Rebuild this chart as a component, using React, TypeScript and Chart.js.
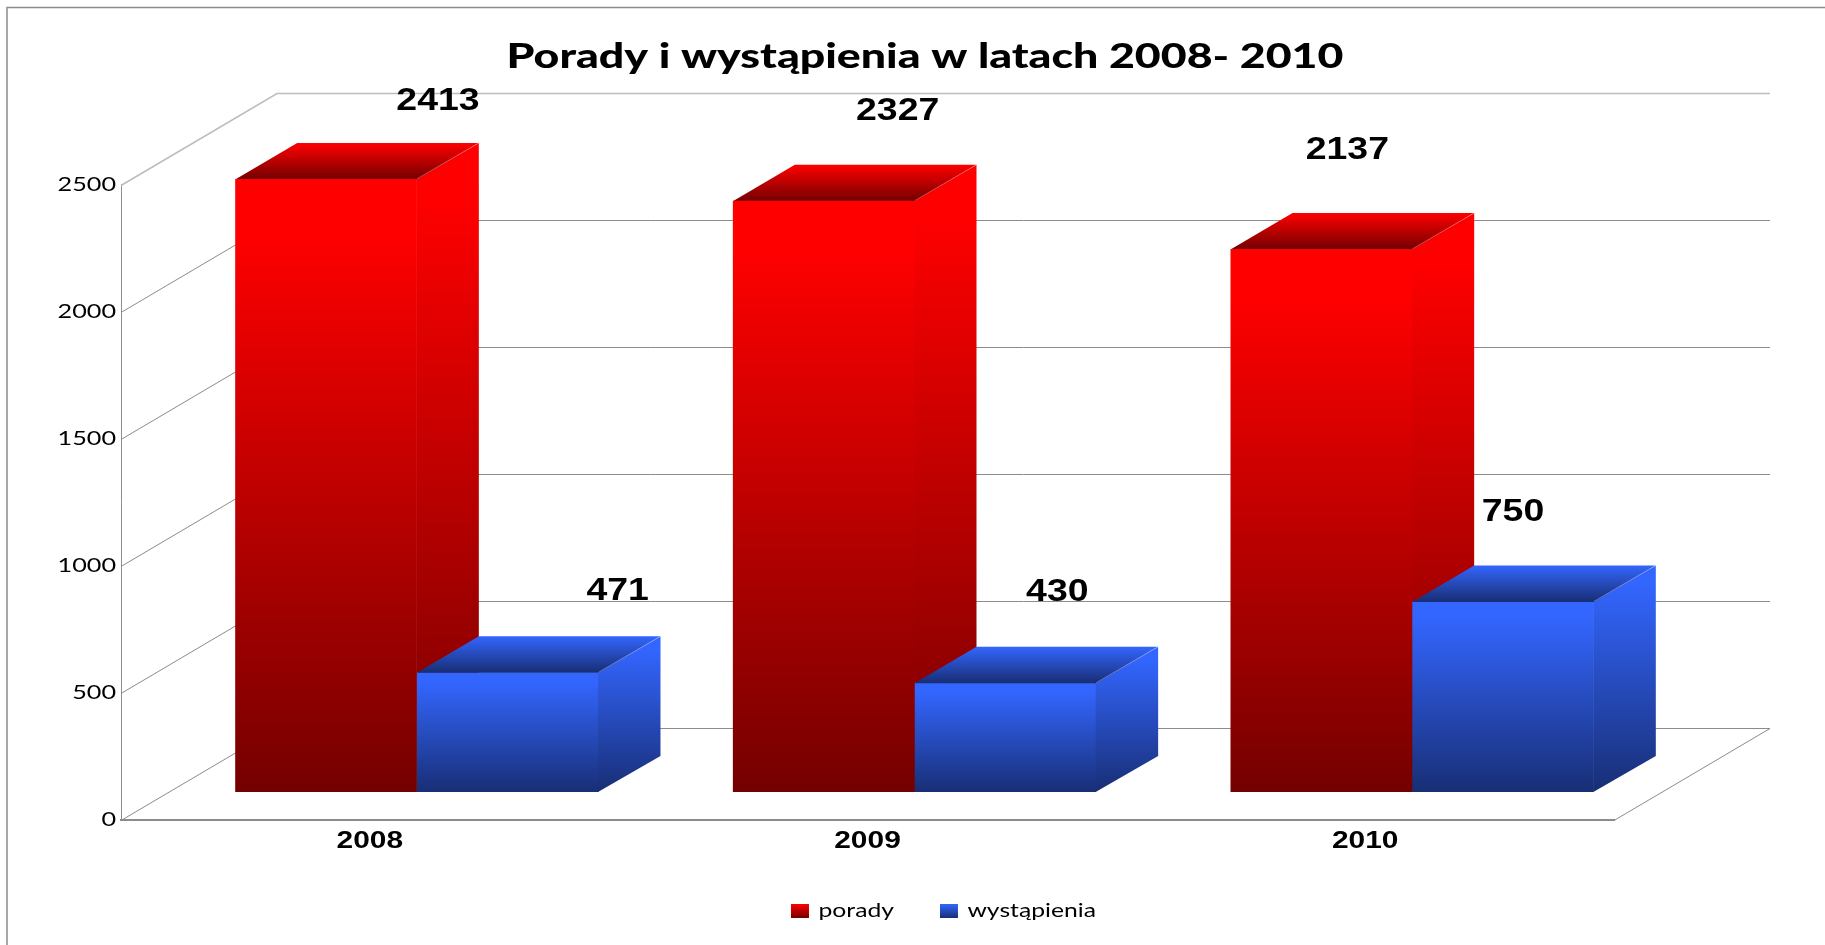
import React, { useEffect, useRef } from "react";
import { Chart, registerables } from "chart.js";

Chart.register(...registerables);

const titleText = "Porady i wystąpienia w latach 2008- 2010";
const categories = ["2008", "2009", "2010"];
const poradyLabel = "porady";
const wystapieniaLabel = "wystąpienia";
const poradyValues = [2413, 2327, 2137];
const wystapieniaValues = [471, 430, 750];
const yTickStep = 500;
const yMax = 2500;

// Hand-placed data label offsets, from the top-centre of the drawn bar
const poradyLabelOffsets = [[112, -78], [74, -90], [26, -99]];
const wystapieniaLabelOffsets = [[110, -81], [52, -91], [10, -89]];

// Perspective
const WALL_DX = 156;
const WALL_DY = 92;
const BAR_DX = 47;
const BAR_DY = 28;
const SIDE_DX = 62;
const SIDE_DY = 36;
const LINE = "#8c8c8c";

const RED = { top: "#ff0000", bottom: "#740000" };
const BLUE = { top: "#3366ff", bottom: "#182e75" };
const palette = [RED, BLUE];

// The reference's text is horizontally stretched: width factor by font size
const stretchBySize: Record<string, number> = { "34": 1.313, "32": 1.17, "23": 1.3, "20": 1.26, "19": 1.3 };
const stretchOf = (font: string) => {
  const m = /(\d+(?:\.\d+)?)px/.exec(font);
  return (m && stretchBySize[m[1]]) || 1;
};

function patchText(ctx: any) {
  const fill = ctx.fillText.bind(ctx);
  const measure = ctx.measureText.bind(ctx);
  ctx.fillText = (t: string, x: number, y: number, w?: number) => {
    ctx.save();
    ctx.translate(x, y);
    ctx.scale(stretchOf(ctx.font), 1);
    fill(t, 0, 0, w);
    ctx.restore();
  };
  ctx.measureText = (t: string) => {
    const r = measure(t);
    return { width: r.width * stretchOf(ctx.font), actualBoundingBoxAscent: r.actualBoundingBoxAscent, actualBoundingBoxDescent: r.actualBoundingBoxDescent };
  };
}

const vGrad = (ctx: CanvasRenderingContext2D, y0: number, y1: number, c: { top: string; bottom: string }, hold = 0.08) => {
  const g = ctx.createLinearGradient(0, y0, 0, y1);
  g.addColorStop(0, c.top);
  g.addColorStop(hold, c.top);
  g.addColorStop(1, c.bottom);
  return g;
};

const frontFill = (c: { top: string; bottom: string }) => (sc: any) => {
  const chart = sc.chart;
  const s = chart.scales.y;
  if (!s) return c.top;
  const y0 = s.getPixelForValue(sc.raw ?? 0);
  const y1 = s.getPixelForValue(0);
  if (!Number.isFinite(y0) || !Number.isFinite(y1)) return c.top;
  return vGrad(chart.ctx, y0, y1, c);
};

// Side and top faces of every bar of one dataset, in the bars' translated plane
function drawExtrusions(ctx: CanvasRenderingContext2D, meta: any, c: { top: string; bottom: string }) {
  meta.data.forEach((bar: any) => {
    const { x, y, base, width } = bar.getProps(["x", "y", "base", "width"], true);
    const l = x - width / 2;
    const r = x + width / 2;
    ctx.fillStyle = vGrad(ctx, y - SIDE_DY, base, c);
    ctx.beginPath();
    ctx.moveTo(r - 0.5, y);
    ctx.lineTo(r + SIDE_DX, y - SIDE_DY);
    ctx.lineTo(r + SIDE_DX, base - SIDE_DY);
    ctx.lineTo(r - 0.5, base);
    ctx.closePath();
    ctx.fill();
    ctx.fillStyle = vGrad(ctx, y - SIDE_DY, y, c, 0);
    ctx.beginPath();
    ctx.moveTo(l, y + 0.5);
    ctx.lineTo(l + SIDE_DX, y - SIDE_DY);
    ctx.lineTo(r + SIDE_DX, y - SIDE_DY);
    ctx.lineTo(r, y + 0.5);
    ctx.closePath();
    ctx.fill();
    ctx.strokeStyle = "rgba(255,255,255,0.3)";
    ctx.lineWidth = 1;
    ctx.beginPath();
    ctx.moveTo(r, y);
    ctx.lineTo(r + SIDE_DX, y - SIDE_DY);
    ctx.stroke();
  });
}

const scene3d = {
  id: "scene3d",
  beforeDraw(chart: any) {
    const { ctx } = chart;
    ctx.save();
    ctx.fillStyle = "#ffffff";
    ctx.fillRect(0, 0, chart.width, chart.height);
    ctx.strokeStyle = "#8c8c8c";
    ctx.lineWidth = 1.5;
    ctx.beginPath();
    ctx.moveTo(7, chart.height);
    ctx.lineTo(7, 7.5);
    ctx.lineTo(chart.width, 7.5);
    ctx.stroke();
    ctx.restore();
  },
  afterLayout(chart: any) {
    const t = chart.titleBlock;
    t.left = 0;
    t.right = 1850;
    const l = chart.legend;
    l.left = 0;
    l.right = 1887;
    const h = l.bottom - l.top;
    l.top = 911 - 9.5 - l.options.labels.padding;
    l.bottom = l.top + h;
  },
  beforeDatasetsDraw(chart: any) {
    const { ctx, chartArea: a, scales } = chart;
    const y = scales.y;
    ctx.save();
    y.ticks.forEach((tk: any) => {
      const p = Math.round(y.getPixelForValue(tk.value)) + 0.5;
      ctx.strokeStyle = tk.value === yMax ? "#bdbdbd" : LINE;
      ctx.lineWidth = tk.value === yMax ? 1.6 : 1;
      ctx.beginPath();
      ctx.moveTo(a.left, p);
      ctx.lineTo(a.left + WALL_DX, p - WALL_DY);
      ctx.lineTo(a.right + WALL_DX, p - WALL_DY);
      ctx.stroke();
    });
    const b = Math.round(a.bottom) + 0.5;
    ctx.strokeStyle = LINE;
    ctx.lineWidth = 1;
    ctx.beginPath();
    ctx.moveTo(a.right, b);
    ctx.lineTo(a.right + WALL_DX, b - WALL_DY);
    ctx.stroke();
    // Red extrusions lie behind everything blue, so they go first
    ctx.translate(BAR_DX, -BAR_DY);
    drawExtrusions(ctx, chart.getDatasetMeta(0), palette[0]);
    ctx.restore();
  },
  beforeDatasetDraw(chart: any) {
    chart.ctx.save();
    chart.ctx.translate(BAR_DX, -BAR_DY);
  },
  afterDatasetDraw(chart: any, args: any) {
    if (args.index === 1) drawExtrusions(chart.ctx, args.meta, palette[1]);
    chart.ctx.restore();
  },
  afterDatasetsDraw(chart: any) {
    const { ctx, data } = chart;
    const offsets = [poradyLabelOffsets, wystapieniaLabelOffsets];
    ctx.save();
    ctx.font = 'bold 32px "Liberation Sans"';
    ctx.fillStyle = "#000000";
    ctx.textAlign = "center";
    ctx.textBaseline = "middle";
    data.datasets.forEach((ds: any, i: number) => {
      chart.getDatasetMeta(i).data.forEach((bar: any, j: number) => {
        const [ox, oy] = offsets[i][j];
        ctx.fillText(String(ds.data[j]), bar.x + BAR_DX + ox, bar.y - BAR_DY + oy);
      });
    });
    ctx.restore();
  },
};

export default function App() {
  const ref = useRef<HTMLCanvasElement | null>(null);
  useEffect(() => {
    const canvas = ref.current!;
    const ctx: any = canvas.getContext("2d");
    patchText(ctx);
    const chart = new Chart(canvas, {
      type: "bar",
      data: {
        labels: categories,
        datasets: [
          { label: poradyLabel, data: poradyValues, backgroundColor: frontFill(RED), clip: false, borderWidth: 0 },
          { label: wystapieniaLabel, data: wystapieniaValues, backgroundColor: frontFill(BLUE), clip: false, borderWidth: 0 },
        ] as any,
      },
      options: {
        animation: false,
        responsive: false,
        devicePixelRatio: 1,
        layout: { padding: { left: 0, right: 211, top: 0, bottom: 0 } },
        datasets: { bar: { barPercentage: 1, categoryPercentage: 0.73 } },
        plugins: {
          title: {
            display: true,
            text: titleText,
            color: "#000000",
            font: { family: "Lato", size: 34, weight: "900", lineHeight: 1.2 },
            padding: { top: 37, bottom: 107 },
          },
          legend: {
            display: true,
            position: "bottom",
            labels: {
              color: "#000000",
              font: { family: "Lato", size: 19 },
              boxWidth: 18,
              boxHeight: 14,
              padding: 46,
              generateLabels(ch: any) {
                const items = Chart.defaults.plugins.legend.labels.generateLabels(ch);
                items.forEach((it: any, i: number) => {
                  it.fillStyle = vGrad(ch.ctx, 904, 918, palette[i], 0);
                  it.lineWidth = 0;
                  it.strokeStyle = "transparent";
                });
                return items;
              },
            },
          },
          tooltip: { enabled: false },
        },
        scales: {
          x: {
            grid: { display: false, drawTicks: false },
            border: { display: true, color: LINE, width: 2 },
            ticks: { color: "#000000", font: { family: "Liberation Sans", size: 23, weight: "bold" }, padding: 8, maxRotation: 0 },
            afterFit(s: any) {
              s.height = 50;
            },
          },
          y: {
            min: 0,
            max: yMax,
            grid: { display: false, drawTicks: false },
            border: { display: true, color: LINE, width: 1 },
            ticks: { stepSize: yTickStep, color: "#000000", font: { family: "Lato", size: 20 }, padding: 5, callback: (v: any) => String(v) },
            afterFit(s: any) {
              s.width = 121;
            },
          },
        },
      } as any,
      plugins: [scene3d],
    });
    return () => {
      chart.destroy();
      delete ctx.fillText;
      delete ctx.measureText;
    };
  }, []);
  return (
    <div style={{ position: "fixed", left: 0, top: 0, width: 1825, height: 945, background: "#fff" }}>
      <canvas ref={ref} width={1825} height={945} style={{ display: "block" }} />
    </div>
  );
}
